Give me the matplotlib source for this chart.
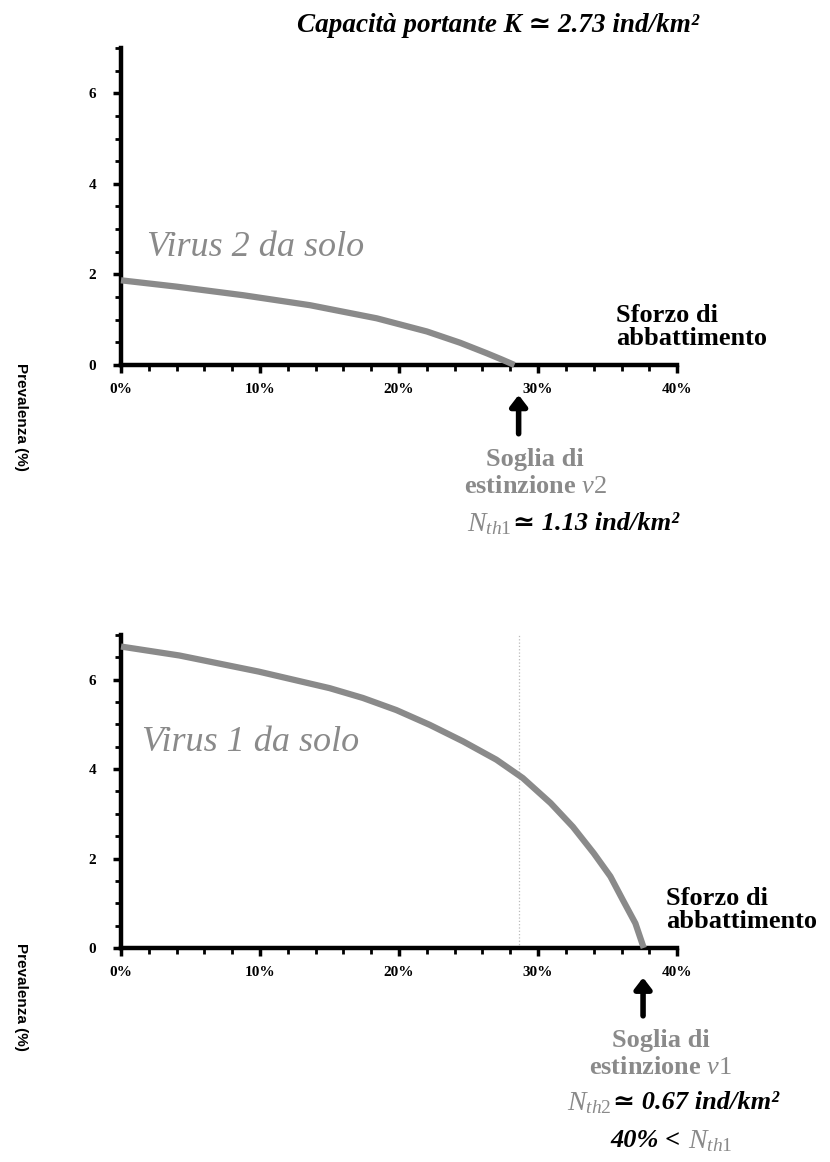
import numpy as np
import matplotlib
matplotlib.use("Agg")
import matplotlib.pyplot as plt
from matplotlib.ticker import MultipleLocator, FuncFormatter

# effort (%) vs prevalence (%)
effort_v2 = [0, 4.0, 8.8, 13.6, 18.4, 22.0, 24.4, 26.3, 27.4, 28.0, 28.3]
prev_v2 = [1.87, 1.73, 1.54, 1.32, 1.03, 0.74, 0.49, 0.26, 0.12, 0.04, 0.0]

effort_v1 = [0, 4.2, 9.9, 15.0, 17.4, 19.8, 22.2, 24.6, 27.0, 28.9, 30.9, 32.5,
             34.0, 35.2, 36.1, 37.0, 37.6]
prev_v1 = [6.74, 6.54, 6.18, 5.81, 5.59, 5.32, 4.99, 4.62, 4.21, 3.80, 3.24, 2.71,
           2.12, 1.60, 1.07, 0.55, 0.0]

thr_v2 = 28.6   # soglia estinzione virus 2
thr_v1 = 37.55  # soglia estinzione virus 1

xticks = [0, 10, 20, 30, 40]
yticks = [0, 2, 4, 6]

grey = '#8a8a8a'
serif = ['Liberation Serif', 'DejaVu Serif']

plt.rcParams['mathtext.fontset'] = 'custom'
plt.rcParams['mathtext.rm'] = 'Liberation Serif'
plt.rcParams['mathtext.it'] = 'Liberation Serif:italic'
plt.rcParams['mathtext.bf'] = 'Liberation Serif:bold'

fig = plt.figure(figsize=(8.3, 11.62), dpi=100)
ax1 = fig.add_axes([0.1458, 0.6859, 0.670, 0.2728])
ax2 = fig.add_axes([0.1458, 0.1842, 0.670, 0.2694])

def style_ax(ax):
    ax.set_xlim(0, 40)
    ax.set_ylim(0, 7)
    for s in ['top', 'right']:
        ax.spines[s].set_visible(False)
    for s in ['left', 'bottom']:
        ax.spines[s].set_linewidth(3.2)
        ax.spines[s].set_capstyle('projecting')
    ax.set_xticks(xticks)
    ax.set_yticks(yticks)
    ax.xaxis.set_minor_locator(MultipleLocator(2))
    ax.yaxis.set_minor_locator(MultipleLocator(0.5))
    ax.tick_params(which='major', direction='out', length=6, width=2.5)
    ax.tick_params(which='minor', direction='out', length=4, width=2)
    ax.tick_params(axis='x', which='major', pad=7)
    ax.tick_params(axis='y', which='major', pad=12)
    ax.xaxis.set_major_formatter(FuncFormatter(lambda v, p: '%d%%' % v))
    for lab in ax.get_xticklabels() + ax.get_yticklabels():
        lab.set_family(serif)
        lab.set_fontweight('bold')
        lab.set_fontsize(11)

style_ax(ax1)
style_ax(ax2)

ax1.text(35.6, 0.83, 'Sforzo di\nabbattimento', family=serif, fontweight='bold',
         fontsize=19, ha='left', va='center', linespacing=1.0, clip_on=False)
ax2.text(39.2, 0.85, 'Sforzo di\nabbattimento', family=serif, fontweight='bold',
         fontsize=19, ha='left', va='center', linespacing=1.0, clip_on=False)

# curves
ax1.plot(effort_v2, prev_v2, color=grey, lw=4.5, solid_capstyle='butt',
         solid_joinstyle='round', clip_on=False, zorder=3)
ax2.plot(effort_v1, prev_v1, color=grey, lw=4.5, solid_capstyle='butt',
         solid_joinstyle='round', clip_on=False, zorder=3)
ax2.axvline(thr_v2, ymin=0, ymax=1, color='#bbbbbb', lw=0.9, ls=':', zorder=1)

ax1.text(1.9, 2.6, 'Virus 2 da solo', family=serif, style='italic', fontsize=26,
         color=grey, ha='left', va='center')
ax2.text(1.5, 4.59, 'Virus 1 da solo', family=serif, style='italic', fontsize=26,
         color=grey, ha='left', va='center')

# arrows below the axis
for ax, thr in [(ax1, thr_v2), (ax2, thr_v1)]:
    ax.annotate('', xy=(thr, -0.6), xytext=(thr, -1.58), annotation_clip=False,
                arrowprops=dict(arrowstyle='-|>,head_width=0.5,head_length=0.65',
                                color='black', lw=4))

# threshold labels
ax1.text(thr_v2 + 1.2, -2.38, 'Soglia di\nestinzione $\\mathit{v2}$', family=serif,
         fontweight='bold', color=grey, fontsize=19, ha='center', va='center',
         linespacing=1.25)
ax1.text(28.1, -3.49, '$\\mathit{N}_{\\mathit{th1}}$', color=grey, fontsize=20,
         ha='right', va='center')
ax1.text(28.2, -3.49, '\u2243 1.13 ind/km\u00b2', family=serif,
         style='italic', fontweight='bold', fontsize=19, ha='left', va='center')

ax2.text(thr_v1 + 1.3, -2.37, 'Soglia di\nestinzione $\\mathit{v1}$', family=serif,
         fontweight='bold', color=grey, fontsize=19, ha='center', va='center',
         linespacing=1.25)
ax2.text(35.3, -3.45, '$\\mathit{N}_{\\mathit{th2}}$', color=grey, fontsize=20,
         ha='right', va='center')
ax2.text(35.4, -3.45, '\u2243 0.67 ind/km\u00b2', family=serif,
         style='italic', fontweight='bold', fontsize=19, ha='left', va='center')
ax2.text(40.7, -4.3, '40% < ', family=serif, style='italic', fontweight='bold',
         fontsize=19, ha='right', va='center')
ax2.text(40.8, -4.3, '$\\mathit{N}_{\\mathit{th1}}$', color=grey, fontsize=20,
         ha='left', va='center')

fig.text(0.6, 0.978, 'Capacit\u00e0 portante K \u2243 2.73 ind/km\u00b2',
         family=serif, style='italic', fontweight='bold', fontsize=19.5,
         ha='center', va='center')

# y labels, read top to bottom
fig.text(0.025, 1 - 417 / 1162, 'Prevalenza (%)', rotation=-90, fontsize=11,
         fontweight='bold', family=['Liberation Sans', 'DejaVu Sans'],
         ha='center', va='center')
fig.text(0.025, 1 - 997 / 1162, 'Prevalenza (%)', rotation=-90, fontsize=11,
         fontweight='bold', family=['Liberation Sans', 'DejaVu Sans'],
         ha='center', va='center')

fig.savefig('out.png', dpi=100)
